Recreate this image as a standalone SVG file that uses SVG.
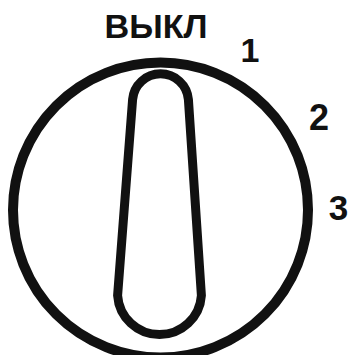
<svg xmlns="http://www.w3.org/2000/svg" width="349" height="355" viewBox="0 0 349 355">
<style>
.t{font-family:"Liberation Sans",Arial,sans-serif;font-weight:bold;fill:#111;}
.s{fill:none;stroke:#111;}
</style>
<rect width="349" height="355" fill="#fff"/>
<g id="dial">
<circle class="s" cx="160.5" cy="210" r="147.5" stroke-width="10"/>
</g>
<g id="knob">
<path class="s" stroke-width="9" d="M132.6,99.5 A28,28 0 0 1 188.4,99.5 L201.4,295.5 A42,42 0 0 1 117.6,295.5 Z"/>
</g>
<g id="labels">
<text class="t" x="156" y="38" font-size="33.5" text-anchor="middle" textLength="103" lengthAdjust="spacingAndGlyphs">ВЫКЛ</text>
<text class="t" x="250" y="62" font-size="34" text-anchor="middle">1</text>
<text class="t" x="319" y="130" font-size="36" text-anchor="middle">2</text>
<text class="t" x="338.5" y="220" font-size="35" text-anchor="middle">3</text>
</g>
</svg>
